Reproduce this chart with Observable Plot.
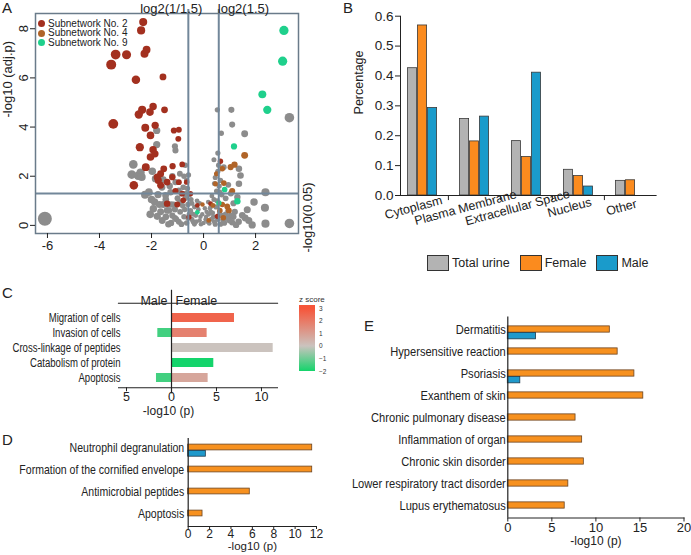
<!DOCTYPE html>
<html><head><meta charset="utf-8">
<script src="https://cdn.jsdelivr.net/npm/d3@7"></script>
<script src="https://cdn.jsdelivr.net/npm/@observablehq/plot@0.6"></script>
<style>
body{margin:0;background:#fff;}
#root{position:relative;width:691px;height:555px;overflow:hidden;font-family:"Liberation Sans",Arial,sans-serif;color:#222;}
.plab{position:absolute;font-size:15px;line-height:15px;}
</style></head><body><div id="root"></div>
<script>
// ---------- Panel A data: volcano plot [log2 fold change, -log10 adj.p] ----------
const sub2 = [[-2.32,8.27],[-2.40,7.93],[-2.19,7.15],[-2.27,6.98],[-3.38,6.95],[-2.96,6.94],[-3.55,6.54],[-2.60,5.92],[-1.56,6.04],[-2.36,4.70],[-2.49,4.51],[-2.06,4.61],[-1.94,4.84],[-1.50,4.70],[-3.47,4.13],[-2.24,3.97],[-1.86,4.07],[-2.04,3.66],[-1.14,3.86],[-0.95,3.89],[-0.97,3.52],[-2.45,3.18],[-1.94,3.08],[-1.87,2.91],[-2.04,2.78],[-2.22,2.37],[-1.53,2.30],[-1.65,2.10],[-1.78,1.96],[-1.19,2.41],[-0.82,2.48],[-1.74,1.83],[-1.65,1.63],[-2.68,1.63],[-1.40,1.76],[-0.95,1.76],[-1.08,1.40],[-0.82,1.29],[-0.50,1.29],[-1.40,0.88],[-1.01,0.85],[-0.78,1.02],[-0.56,0.34],[-0.24,0.81],[0.65,2.61],[0.53,0.37],[0.27,0.88],[-0.65,1.76],[-1.20,1.96]];
const sub4 = [[1.58,2.85],[1.19,2.47],[1.04,2.37],[0.50,2.10],[0.72,2.30],[0.78,1.72],[0.46,1.69],[1.10,1.40],[0.36,0.81],[0.72,0.85],[0.91,0.77],[0.97,0.61],[0.63,0.61],[0.76,0.31],[0.20,0.20],[-0.04,0.85]];
const sub9 = [[3.09,7.93],[3.04,6.68],[2.26,5.33],[2.45,4.70],[1.17,3.21],[0.81,1.46],[1.30,0.98],[0.59,0.91],[-0.24,0.53]];
const otherProteins = [[0.53,4.70],[1.07,4.70],[1.10,4.10],[0.68,3.75],[1.58,3.73],[3.30,4.38],[0.55,2.94],[0.40,2.67],[0.78,2.37],[1.36,2.30],[1.42,2.03],[0.65,1.83],[1.36,1.69],[2.38,1.35],[2.36,0.72],[1.94,0.95],[1.68,0.64],[1.49,0.41],[1.74,0.20],[1.87,0.02],[2.38,0.07],[3.30,0.08],[1.30,1.15],[1.15,0.90],[1.05,1.30],[0.95,1.65],[0.55,2.20],[0.45,1.95],[0.60,1.60],[0.50,1.40],[0.70,1.25],[0.85,1.10],[1.20,0.55],[1.05,0.40],[0.90,0.30],[1.35,0.15],[1.10,0.12],[0.80,0.10],[0.62,0.55],[0.48,0.75],[0.40,1.05],[0.35,0.50],[0.30,0.25],[0.55,0.25],[0.70,0.40],[0.25,0.70],[0.20,0.45],[0.15,0.15],[0.45,0.05],[0.65,0.05],[0.95,0.60],[1.60,0.30],[1.25,0.02],[0.10,0.35],
[-6.10,0.27],[-2.70,2.48],[-2.76,2.07],[-2.52,2.02],[-2.38,1.97],[-2.42,2.15],[-1.97,2.20],[-1.85,1.90],[-1.55,1.86],[-2.10,1.35],[-1.88,0.95],[-1.93,0.68],[-1.78,0.37],[-1.59,0.20],[-1.55,0.85],[-1.46,1.22],[-1.27,1.35],[-1.33,0.61],[-1.80,3.86],[-1.80,3.29],[-1.10,3.22],[-1.08,3.05],[-1.08,1.76],[-0.91,2.10],[-0.95,1.42],[-1.40,0.61],[-1.20,0.40],[-1.05,0.25],[-0.90,0.55],[-0.80,0.80],[-0.70,1.10],[-0.62,1.50],[-0.65,1.83],[-0.75,2.00],[-0.60,0.30],[-0.50,0.60],[-0.45,0.90],[-0.40,0.15],[-0.30,0.40],[-0.20,0.65],[-0.15,0.20],[-0.05,0.45],[0.00,0.10],[0.05,0.70],[-0.25,1.00],[-1.25,0.10],[-1.45,0.35],[-1.65,0.55],[-1.15,0.85],[-1.00,1.10],[-0.85,1.30],[-1.30,1.60],[-1.60,1.55],[-2.00,1.05],[-0.55,1.25],[-0.85,0.05],[-0.65,0.10],[-0.35,0.05],[-1.75,1.25],[-1.20,2.00],[-0.70,2.45],
[-1.35,0.05],[-1.10,0.30],[-0.95,0.15],[-0.75,0.35],[-0.55,0.45],[-0.45,0.25],[-0.35,0.75],[-0.28,0.15],[-0.12,0.35],[-0.10,0.05],[0.08,0.25],[0.12,0.55],[0.22,0.08],[0.28,0.55],[0.38,0.35],[0.42,0.15],[0.58,0.40],[0.75,0.22],[0.85,0.45],[1.00,0.20],[1.15,0.35],[-0.72,0.65],[-0.60,0.85],[-0.90,0.95],[-1.10,0.65],[-1.25,0.85],[-0.48,1.05],[-0.40,0.45],[0.18,0.95],[0.32,1.20],[0.52,1.00],[0.62,1.35],[-0.15,0.90],[-0.78,1.55],[-1.45,1.05],[-1.70,0.85],[-2.25,1.25],[-2.05,0.45],[-0.58,2.05],[-0.68,1.30],[0.58,2.45],[0.42,1.70]];
const subnetNames = ["Subnetwork No. 2","Subnetwork No. 4","Subnetwork No. 9"];
const volcanoXTicks = [-6,-4,-2,0,2];
const volcanoYTicks = [0,2,4,6,8];

// ---------- Panel B data ----------
const cellCats = ["Cytoplasm","Plasma Membrane","Extracellular Space","Nucleus","Other"];
const cellSeries = ["Total urine","Female","Male"];
const totalUrinePct = [0.426,0.256,0.182,0.086,0.049];
const femalePct = [0.569,0.181,0.129,0.065,0.051];
const malePct = [0.293,0.264,0.411,0.030,null];
const pctTicks = [0,0.1,0.2,0.3,0.4,0.5,0.6];

// ---------- Panel C data ----------
const cTerms = ["Migration of cells","Invasion of cells","Cross-linkage of peptides","Catabolism of protein","Apoptosis"];
const cFemaleP = [7.0,3.96,11.3,4.7,4.07];
const cFemaleZ = [2.6,1.8,0.0,-2.0,0.8];
const cMaleP = [null,1.52,null,null,1.67];
const cMaleZ = [null,-1.5,null,null,-1.5];
const cTicks = [-5,0,5,10];
const zTicks = [3,2,1,0,-1,-2];

// ---------- Panel D data ----------
const dTerms = ["Neutrophil degranulation","Formation of the cornified envelope","Antimicrobial peptides","Apoptosis"];
const dFemale = [11.6,11.6,5.76,1.34];
const dMale = [1.65,null,null,null];
const dTicks = [0,2,4,6,8,10,12];

// ---------- Panel E data ----------
const eTerms = ["Dermatitis","Hypersensitive reaction","Psoriasis","Exanthem of skin","Chronic pulmonary disease","Inflammation of organ","Chronic skin disorder","Lower respiratory tract disorder","Lupus erythematosus"];
const eFemale = [11.58,12.47,14.37,15.38,7.69,8.44,8.63,6.87,6.46];
const eMale = [3.21,null,1.42,null,null,null,null,null,null];
const eTicks = [0,5,10,15,20];

// ---------- styling ----------
const SANS = "'Liberation Sans', Arial, sans-serif";
const colSub = ["#a3301f","#b06428","#1fd08c"];
const colGrayPt = "#8c8c8c";
const lineCol = "#72879a";
const colTotal = "#b3b3b3", colFemale = "#fb8b1e", colMale = "#1a9bcb";
const colOrangeBar = "#f7911f", colBlueBar = "#1f99cb";

const root = document.getElementById("root");
function place(el, left, top) { el.style.position = "absolute"; el.style.left = left + "px"; el.style.top = top + "px"; root.appendChild(el); return el; }
function label(t, left, top) { const d = document.createElement("div"); d.className = "plab"; d.textContent = t; place(d, left, top); }
// horizontally condense text (the original uses a narrow typeface)
function condense(svg, selector, f) {
  d3.select(svg).selectAll(selector).each(function() {
    let tr = this.getAttribute("transform");
    if (!tr) {
      const x = this.getAttribute("x") || 0, y = this.getAttribute("y") || 0;
      this.removeAttribute("x"); this.removeAttribute("y");
      tr = `translate(${x},${y})`;
    }
    this.setAttribute("transform", tr + ` scale(${f},1)`);
  });
}

// ================= Panel A =================
const thrY = -Math.log10(0.05);
const thrL = Math.log2(1/1.5), thrR = Math.log2(1.5);
const dotOpts = (fill) => ({x: d => d[0], y: d => d[1], r: d => Math.abs(d[0]), fill});
const A = Plot.plot({
  width: 320, height: 258,
  marginLeft: 35, marginRight: 22, marginTop: 13, marginBottom: 25,
  x: {domain: [-6.46, 3.65]},
  y: {domain: [-0.33, 8.62]},
  r: {type: "linear", domain: [0, 6.1], range: [2.2, 7]},
  style: {fontFamily: SANS, fontSize: "13px", color: "#222", background: "transparent"},
  marks: [
    Plot.dot(otherProteins, dotOpts(colGrayPt)),
    Plot.dot(sub2, dotOpts(colSub[0])),
    Plot.dot(sub4, dotOpts(colSub[1])),
    Plot.dot(sub9, dotOpts(colSub[2])),
    Plot.ruleY([thrY], {stroke: lineCol, strokeWidth: 2}),
    Plot.ruleX([thrL, thrR], {stroke: lineCol, strokeWidth: 2, insetTop: -4}),
    Plot.frame({stroke: "#6a7b8a", strokeWidth: 1.5}),
    Plot.axisX({ticks: volcanoXTicks, tickFormat: d => String(d), tickSize: 5, tickPadding: 2, label: null}),
    Plot.axisY({ticks: volcanoYTicks, tickFormat: d => String(d), tickSize: 5, tickPadding: 3, tickRotate: -90, label: null}),
    Plot.text(["-log10 (adj.p)"], {frameAnchor: "left", rotate: -90, dx: -28, dy: -6, fontSize: 13}),
    Plot.text(["log2(1/1.5)"], {x: () => thrL, frameAnchor: "top", textAnchor: "end", lineAnchor: "bottom", dx: 14, dy: -1, fontSize: 13}),
    Plot.text(["log2(1.5)"], {x: () => thrR, frameAnchor: "top", textAnchor: "start", lineAnchor: "bottom", dx: -1, dy: -1, fontSize: 13}),
    Plot.text(["-log10(0.05)"], {y: () => thrY, frameAnchor: "right", rotate: -90, dx: 9.5, dy: -11, fontSize: 13})
  ]
});
place(A, 0, 0);
const legA = document.createElement("div");
legA.style.cssText = `font:10px ${SANS};line-height:9.5px;color:#222;white-space:nowrap`;
subnetNames.forEach((t, i) => {
  const row = document.createElement("div");
  row.innerHTML = `<span style="display:inline-block;width:7px;height:7px;border-radius:50%;background:${colSub[i]};margin-right:3px;vertical-align:-0.5px"></span>${t}`;
  legA.appendChild(row);
});
place(legA, 38, 18.5);
label("A", 2, 0);

// ================= Panel B =================
const bML = 60, bMR = 34.4, bW = 351, bInsetL = -4.4;
const bw = (bW - bML - bMR - bInsetL) / cellCats.length;
const barW = 9.4, groupStart = (bw - 3 * barW - 1.2) / 2;
const seriesVals = [totalUrinePct, femalePct, malePct];
const seriesCols = [colTotal, colFemale, colMale];
const bBars = seriesVals.map((vals, i) => {
  const left = groupStart + i * (barW + 0.6);
  return Plot.barY(cellCats.map((c, j) => ({cat: c, v: vals[j]})).filter(d => d.v != null),
    {x: "cat", y: "v", fill: seriesCols[i], stroke: "#3a3a3a", strokeWidth: 0.8,
     insetLeft: left, insetRight: bw - left - barW});
});
const B = Plot.plot({
  width: bW, height: 240,
  marginLeft: bML, marginRight: bMR, marginTop: 15.7, marginBottom: 45,
  x: {type: "band", domain: cellCats, padding: 0, insetLeft: bInsetL, axis: null},
  y: {domain: [0, 0.6], axis: null},
  style: {fontFamily: SANS, fontSize: "13px", color: "#222", background: "transparent"},
  marks: [
    ...bBars,
    Plot.ruleY([0], {stroke: "#222", strokeWidth: 1}),
    Plot.frame({anchor: "left", stroke: "#222", strokeWidth: 1}),
    Plot.ruleX(cellCats.slice(1), {x: d => d, y1: 0, y2: -0.017, dx: -bw / 2, stroke: "#222"}),
    Plot.axisY({ticks: pctTicks, tickFormat: d3.format(".1f"), tickSize: 5, tickPadding: 2, label: null, fontSize: 13.5}),
    Plot.text(cellCats, {x: d => d, frameAnchor: "bottom", rotate: -15, dx: -8, dy: 16, fontSize: 12.5}),
    Plot.text(["Percentage"], {frameAnchor: "left", rotate: -90, dx: -42, dy: 8.6, fontSize: 12.5})
  ]
});
place(B, 340, 0);
const legB = document.createElement("div");
legB.style.cssText = `display:flex;align-items:center;gap:10px;font:12.5px ${SANS};color:#222;white-space:nowrap`;
cellSeries.forEach((s, i) => {
  const it = document.createElement("div");
  it.style.cssText = "display:flex;align-items:center";
  it.innerHTML = `<span style="display:inline-block;width:20px;height:14px;background:${seriesCols[i]};border:1px solid #333;margin-right:3px"></span>${s}`;
  legB.appendChild(it);
});
place(legB, 427, 255);
label("B", 343, 0);

// ================= Panel C =================
const zRange = ["#14d46b", "#cbc3be", "#f6553a"];
const zScale = d3.scaleLinear().domain([-2, 0, 3]).range(zRange).clamp(true);
const cFemale = cTerms.map((t, i) => ({term: t, p: cFemaleP[i], z: cFemaleZ[i]}));
const cMale = cTerms.map((t, i) => ({term: t, p: cMaleP[i], z: cMaleZ[i]})).filter(d => d.p != null);
const C = Plot.plot({
  width: 290, height: 135,
  marginLeft: 118, marginRight: 13, marginTop: 22.75, marginBottom: 32.75,
  x: {domain: [-5.89, 11.78]},
  y: {domain: cTerms, paddingInner: 0.39, paddingOuter: 0.195, axis: null},
  color: {type: "linear", domain: [-2, 0, 3], range: zRange},
  style: {fontFamily: SANS, fontSize: "12px", color: "#222", background: "transparent"},
  marks: [
    Plot.barX(cFemale, {x: "p", y: "term", fill: "z"}),
    Plot.barX(cMale, {x: d => -d.p, y: "term", fill: "z"}),
    Plot.ruleX([0], {stroke: "#222", strokeWidth: 1.2, insetTop: -18, insetBottom: -6}),
    Plot.frame({anchor: "top", dy: -5, stroke: "#222", strokeWidth: 1.2}),
    Plot.frame({anchor: "bottom", stroke: "#222", strokeWidth: 1}),
    Plot.axisY({tickSize: 0, tickPadding: -2, fontSize: 13.5, label: null}),
    Plot.axisX({ticks: cTicks, tickFormat: d => String(Math.abs(d)), tickSize: 4, tickPadding: 0, fontSize: 12.5, label: null}),
    Plot.text(["Male"], {x: () => 0, frameAnchor: "top", textAnchor: "end", dx: -4, dy: -12.5, fontSize: 12.5}),
    Plot.text(["Female"], {x: () => 0, frameAnchor: "top", textAnchor: "start", dx: 4, dy: -12.5, fontSize: 12.5}),
    Plot.text(["-log10 (p)"], {x: () => 0, frameAnchor: "bottom", dx: -3, dy: 27, fontSize: 12, ariaLabel: "xlabel"})
  ]
});
condense(C, 'g[aria-label^="y-axis"] text', 0.71);
condense(C, 'g[aria-label="xlabel"] text', 0.8);
place(C, 0, 285);
// z-score legend
const rampTopZ = 3.27, rampBotZ = -2.0, rampH = 66;
const ramp = document.createElement("div");
const stops = [-2, -1, 0, 1, 2, 3].map(z => `${zScale(z)} ${((z - rampBotZ) / (rampTopZ - rampBotZ) * 100).toFixed(1)}%`);
ramp.style.cssText = `width:16px;height:${rampH}px;background:linear-gradient(to top, ${stops.join(",")}, ${zScale(3)} 100%)`;
place(ramp, 299, 305);
const zPos = d3.scaleLinear().domain([rampBotZ, rampTopZ]).range([305 + rampH, 305]);
zTicks.forEach(z => {
  const s = document.createElement("div");
  s.textContent = z < 0 ? "\u2212" + Math.abs(z) : String(z);
  s.style.cssText = `font:6.5px ${SANS};line-height:7px;color:#333`;
  place(s, 319, zPos(z) - 3.5);
});
const zt = document.createElement("div");
zt.textContent = "z score";
zt.style.cssText = `font:8px ${SANS};line-height:8px;color:#333`;
place(zt, 299, 296);
label("C", 2, 285);

// ================= Panel D =================
const dF = dTerms.map((t, i) => ({term: t, v: dFemale[i]}));
const dM = dTerms.map((t, i) => ({term: t, v: dMale[i]})).filter(d => d.v != null);
const dStep = (526 - 436) / dTerms.length, dBarH = 6.3;
const D = Plot.plot({
  width: 330, height: 130,
  marginLeft: 187.7, marginRight: 14, marginTop: 11, marginBottom: 29,
  x: {domain: [0, 12]},
  y: {domain: dTerms, padding: 0, axis: null},
  style: {fontFamily: SANS, fontSize: "12px", color: "#222", background: "transparent"},
  marks: [
    Plot.barX(dF, {x: "v", y: "term", fill: colOrangeBar, stroke: "#6b4522", strokeWidth: 0.8, insetTop: (dStep - dBarH) / 2 - 1, insetBottom: (dStep - dBarH) / 2 + 1}),
    Plot.barX(dM, {x: "v", y: "term", fill: colBlueBar, stroke: "#1f3a4d", strokeWidth: 0.8, insetTop: (dStep - dBarH) / 2 - 1, insetBottom: (dStep - dBarH) / 2 + 1, dy: dBarH}),
    Plot.ruleX([0], {stroke: "#222", strokeWidth: 1.2, insetTop: 2}),
    Plot.frame({anchor: "bottom", stroke: "#222", strokeWidth: 1}),
    Plot.axisY({tickSize: 0, tickPadding: 4, fontSize: 13, label: null, dy: -1}),
    Plot.axisX({ticks: dTicks, tickSize: 3, tickPadding: 0, fontSize: 12, label: null}),
    Plot.text(["-log10 (p)"], {x: () => 6, frameAnchor: "bottom", dy: 23.5, fontSize: 11.5, ariaLabel: "xlabel"})
  ]
});
condense(D, 'g[aria-label^="y-axis"] text', 0.81);
condense(D, 'g[aria-label="xlabel"] text', 0.88);
place(D, 0, 425);
label("D", 2, 432);

// ================= Panel E =================
const eF = eTerms.map((t, i) => ({term: t, v: eFemale[i]}));
const eM = eTerms.map((t, i) => ({term: t, v: eMale[i]})).filter(d => d.v != null);
const eStep = (517.5 - 315.5) / eTerms.length, eBarH = 6.7;
const E = Plot.plot({
  width: 351, height: 250,
  marginLeft: 167.3, marginRight: 7.5, marginTop: 10.5, marginBottom: 37.5,
  x: {domain: [0, 20]},
  y: {domain: eTerms, padding: 0, axis: null},
  style: {fontFamily: SANS, fontSize: "12px", color: "#222", background: "transparent", overflow: "visible"},
  marks: [
    Plot.barX(eF, {x: "v", y: "term", fill: colOrangeBar, stroke: "#6b4522", strokeWidth: 0.8, insetTop: (eStep - eBarH) / 2, insetBottom: (eStep - eBarH) / 2}),
    Plot.barX(eM, {x: "v", y: "term", fill: colBlueBar, stroke: "#1f3a4d", strokeWidth: 0.8, insetTop: (eStep - eBarH) / 2, insetBottom: (eStep - eBarH) / 2, dy: eBarH}),
    Plot.ruleX([0], {stroke: "#222", strokeWidth: 1.2, insetTop: 1}),
    Plot.frame({anchor: "bottom", stroke: "#222", strokeWidth: 1}),
    Plot.axisY({tickSize: 0, tickPadding: 2, fontSize: 12.5, label: null}),
    Plot.axisX({ticks: eTicks, tickSize: 4, tickPadding: 1, fontSize: 13, label: null}),
    Plot.text(["-log10 (p)"], {x: () => 10, frameAnchor: "bottom", dy: 27, fontSize: 12, ariaLabel: "xlabel"})
  ]
});
condense(E, 'g[aria-label^="y-axis"] text', 0.89);
condense(E, 'g[aria-label="xlabel"] text', 0.8);
place(E, 340, 305);
label("E", 364, 318);
</script></body></html>
